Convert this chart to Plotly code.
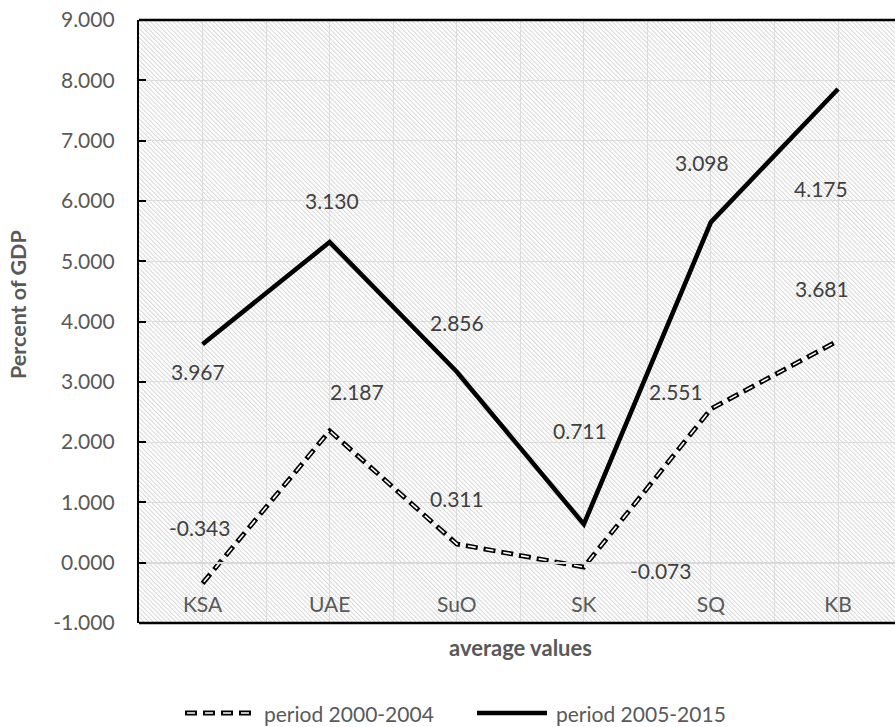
import base64
import numpy as np
import plotly.graph_objects as go

# ---- data -------------------------------------------------------------
categories = ["KSA", "UAE", "SuO", "SK", "SQ", "KB"]
period_2000_2004 = [-0.343, 2.187, 0.311, -0.073, 2.551, 3.681]
period_2005_2015 = [3.967, 3.130, 2.856, 0.711, 3.098, 4.175]
series_names = ["period 2000-2004", "period 2005-2015"]
y_ticks = [-1, 0, 1, 2, 3, 4, 5, 6, 7, 8, 9]

# stacked line chart: the later period sits on top of the earlier one
lower = np.array(period_2000_2004)
upper = lower + np.array(period_2005_2015)
xpos = np.arange(len(categories))

# ---- layout geometry (pixels) ----------------------------------------
FIG_W, FIG_H = 895, 727
M_L, M_R, M_T, M_B = 139, 0, 20, 104
PLOT_W = FIG_W - M_L - M_R
PLOT_H = FIG_H - M_T - M_B
Y_MIN, Y_MAX = -1, 9
X_MIN = -0.5
X_MAX = X_MIN + PLOT_W / 127.1


def px_x(x):
    return (x - M_L) / PLOT_W


def px_y(y):
    return (FIG_H - M_B - y) / PLOT_H


# manual nudges (pixels: right, down) for the data labels
label_nudge_lower = [(-3, -56), (27, -39), (0, -45), (77, 3), (-35, -17), (-16, -52)]
label_nudge_upper = [(-5, 27), (2, -42), (0, -49), (-4, -94), (-9, -60), (-17, 100)]

FONT = "Lato, 'Open Sans', sans-serif"
TXT = "#595959"
LBL = "#404040"
GRID = "#dcdcdc"

DASH_OUT = "12px,6px"
DASH_IN = "0px,2px,8px,8px"

# hatched plot-area background
svg = (
    f'<svg xmlns="http://www.w3.org/2000/svg" width="{PLOT_W}" height="{PLOT_H}">'
    '<defs><pattern id="h" width="3.2" height="3.2" patternUnits="userSpaceOnUse" '
    'patternTransform="rotate(-45)">'
    '<rect x="0" y="0" width="1.0" height="3.2" fill="#d6d6d6"/></pattern></defs>'
    f'<rect width="{PLOT_W}" height="{PLOT_H}" fill="#ffffff"/>'
    f'<rect width="{PLOT_W}" height="{PLOT_H}" fill="url(#h)"/></svg>'
)
hatch_src = "data:image/svg+xml;base64," + base64.b64encode(svg.encode()).decode()

fig = go.Figure()

# earlier period: outlined dashes (black dash with a white core)
fig.add_trace(go.Scatter(
    x=xpos, y=lower, mode="lines", name=series_names[0], showlegend=False,
    line=dict(color="black", width=4.8, dash=DASH_OUT), hoverinfo="skip",
))
fig.add_trace(go.Scatter(
    x=xpos, y=lower, mode="lines", showlegend=False,
    line=dict(color="white", width=1.6, dash=DASH_IN), hoverinfo="skip",
))
# later period, stacked
fig.add_trace(go.Scatter(
    x=xpos, y=upper, mode="lines", name=series_names[1], showlegend=False,
    line=dict(color="black", width=4.6), hoverinfo="skip",
))

annotations = []
for i, v in enumerate(period_2000_2004):
    dx, dy = label_nudge_lower[i]
    annotations.append(dict(
        x=xpos[i], y=lower[i], xref="x", yref="y", text=f"{v:.3f}",
        showarrow=False, xshift=dx, yshift=-dy,
        font=dict(family=FONT, size=21, color=LBL),
    ))
for i, v in enumerate(period_2005_2015):
    dx, dy = label_nudge_upper[i]
    annotations.append(dict(
        x=xpos[i], y=upper[i], xref="x", yref="y", text=f"{v:.3f}",
        showarrow=False, xshift=dx, yshift=-dy,
        font=dict(family=FONT, size=21, color=LBL),
    ))

# axis titles
annotations.append(dict(
    x=px_x(18), y=px_y(305), xref="paper", yref="paper", text="<b>Percent of GDP</b>",
    textangle=-90, showarrow=False, xanchor="center", yanchor="middle",
    font=dict(family=FONT, size=21.5, color=TXT),
))
annotations.append(dict(
    x=px_x(520), y=px_y(647), xref="paper", yref="paper", text="<b>average values</b>",
    showarrow=False, xanchor="center", yanchor="middle",
    font=dict(family=FONT, size=22, color=TXT),
))

# legend
LEG_Y = 713
legend_items = [
    (185, 251, 262, series_names[0], True),
    (477, 547, 554, series_names[1], False),
]
shapes = []
for x0, x1, tx, name, dashed in legend_items:
    if dashed:
        shapes.append(dict(type="line", xref="paper", yref="paper",
                           x0=px_x(x0), x1=px_x(x1), y0=px_y(LEG_Y), y1=px_y(LEG_Y),
                           line=dict(color="black", width=4.8, dash=DASH_OUT)))
        shapes.append(dict(type="line", xref="paper", yref="paper",
                           x0=px_x(x0), x1=px_x(x1), y0=px_y(LEG_Y), y1=px_y(LEG_Y),
                           line=dict(color="white", width=1.6, dash=DASH_IN)))
    else:
        shapes.append(dict(type="line", xref="paper", yref="paper",
                           x0=px_x(x0), x1=px_x(x1), y0=px_y(LEG_Y), y1=px_y(LEG_Y),
                           line=dict(color="black", width=4.6)))
    annotations.append(dict(
        x=px_x(tx), y=px_y(LEG_Y), xref="paper", yref="paper", text=name,
        showarrow=False, xanchor="left", yanchor="middle",
        font=dict(family=FONT, size=21, color=TXT),
    ))

# frame: top and bottom edges of the plot area
for yy in (0, 1):
    shapes.append(dict(type="line", xref="paper", yref="paper", x0=0, x1=1, y0=yy, y1=yy,
                       line=dict(color="black", width=2.3), layer="above"))

fig.update_layout(
    width=FIG_W, height=FIG_H,
    margin=dict(l=M_L, r=M_R, t=M_T, b=M_B, pad=0),
    paper_bgcolor="white", plot_bgcolor="rgba(0,0,0,0)",
    showlegend=False,
    annotations=annotations,
    shapes=shapes,
    images=[dict(source=hatch_src, xref="paper", yref="paper", x=0, y=1,
                 sizex=1, sizey=1, xanchor="left", yanchor="top",
                 sizing="stretch", layer="below")],
    xaxis=dict(
        range=[X_MIN, X_MAX], tickmode="array", tickvals=xpos, ticktext=categories,
        anchor="free", position=(0 - Y_MIN) / (Y_MAX - Y_MIN),
        showline=True, linecolor="#d9d9d9", linewidth=2.2,
        showgrid=True, gridcolor=GRID, gridwidth=1.3, zeroline=False,
        minor=dict(tickmode="linear", tick0=-0.5, dtick=1, showgrid=True,
                   gridcolor=GRID, gridwidth=1.3),
        ticks="", ticklabelstandoff=23,
        tickfont=dict(family=FONT, size=21, color=TXT),
    ),
    yaxis=dict(
        range=[Y_MIN, Y_MAX], tickmode="array", tickvals=y_ticks,
        ticktext=[f"{v:.3f}" for v in y_ticks],
        showline=True, linecolor="black", linewidth=2.3,
        ticks="inside", ticklen=7, tickwidth=1.5, tickcolor="black",
        showgrid=True, gridcolor=GRID, gridwidth=1.3, zeroline=False,
        ticklabelstandoff=18,
        tickfont=dict(family=FONT, size=21, color=TXT),
    ),
)

fig.write_html("out.html")
